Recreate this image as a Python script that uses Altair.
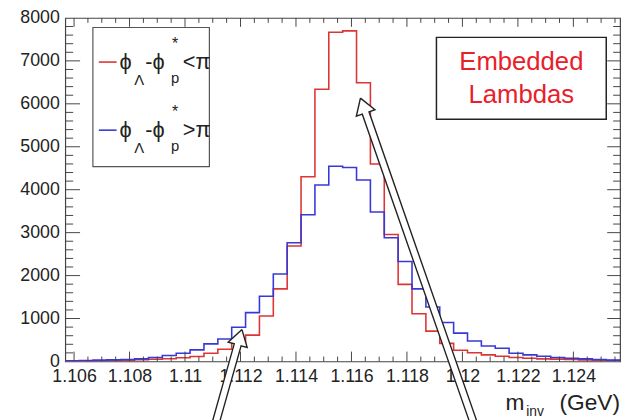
import altair as alt
import numpy as np
import pandas as pd

# ---------------- data ----------------
x_lo, x_hi = 1.105683, 1.125683          # axis range (GeV)
bin_width = 0.0005
# counts per bin (40 bins), phi_L - phi_p* < pi  (red)
red_counts = [10, 12, 18, 23, 31, 40, 50, 62, 88, 115,
              192, 284, 423, 613, 1060, 1690, 2688, 4302, 6339, 7667,
              7699, 6492, 4600, 2958, 1795, 1113, 706, 422, 260, 204,
              153, 123, 92, 77, 61, 54, 46, 38, 31, 23]
# phi_L - phi_p* > pi  (blue)
blue_counts = [15, 23, 31, 38, 46, 61, 92, 138, 192, 270,
               410, 525, 795, 1137, 1517, 2035, 2766, 3418, 4110, 4548,
               4518, 4225, 3480, 2881, 2330, 1690, 1268, 906, 660, 476,
               360, 307, 192, 154, 123, 92, 77, 61, 46, 31]
x_major = [1.106, 1.108, 1.110, 1.112, 1.114, 1.116, 1.118, 1.120, 1.122, 1.124]
y_major = [0, 1000, 2000, 3000, 4000, 5000, 6000, 7000, 8000]
y_max = 8000
# annotation arrows: (tip x, tip y, tail x, tail y) in data units
arrows = [(1.116324, 6133, 1.120400, -1420),
          (1.112053, 742, 1.111110, -1420)]

# ---------------- layout ----------------
W, H = 562, 348
RED, BLUE = "#dd3535", "#3838d8"
FONT = "Liberation Sans"

edges = x_lo + bin_width * np.arange(len(red_counts) + 1)
hist = pd.concat([
    pd.DataFrame({"x": edges, "v": red_counts + [red_counts[-1]], "s": "red"}),
    pd.DataFrame({"x": edges, "v": blue_counts + [blue_counts[-1]], "s": "blue"}),
])

xs = alt.Scale(domain=[x_lo, x_hi], nice=False, zero=False)
ys = alt.Scale(domain=[0, y_max], nice=False)

x_axis = alt.Axis(values=x_major, format=".4~f", ticks=False, domain=False, grid=False,
                  title=None, labelFontSize=18, labelFont=FONT, labelColor="#222",
                  labelPadding=6, labelFlush=False, labelOverlap=False, labelBound=False)
y_axis = alt.Axis(values=y_major, format="d", ticks=False, domain=False, grid=False,
                  title=None, labelFontSize=18, labelFont=FONT, labelColor="#222",
                  labelPadding=6, labelFlush=False, labelOverlap=False, labelBound=False)

base = alt.Chart(hist)
lines = []
for s, col in [("red", RED), ("blue", BLUE)]:
    lines.append(base.transform_filter(alt.datum.s == s).mark_line(
        interpolate="step-after", color=col, strokeWidth=1.6, clip=True).encode(
        x=alt.X("x:Q", scale=xs, axis=x_axis),
        y=alt.Y("v:Q", scale=ys, axis=y_axis)))

# tick marks (inside the frame, on all four sides)
x_minor = [round(1.106 + bin_width * k, 4) for k in range(40)
           if round(1.106 + bin_width * k, 4) not in [round(v, 4) for v in x_major]
           and 1.106 + bin_width * k < x_hi]
y_minor = [v for v in range(0, y_max + 1, 200) if v % 1000 != 0]
tk = "#444"
def xt(vals, y0, y1):
    return alt.Chart(pd.DataFrame({"x": vals})).mark_rule(color=tk, strokeWidth=1).encode(
        x=alt.X("x:Q", scale=xs), y=alt.value(y0), y2=alt.value(y1))
def yt(vals, x0, x1):
    return alt.Chart(pd.DataFrame({"y": vals})).mark_rule(color=tk, strokeWidth=1).encode(
        y=alt.Y("y:Q", scale=ys), x=alt.value(x0), x2=alt.value(x1))
ticks = [xt(x_major, H, H - 10), xt(x_minor, H, H - 5),
         xt(x_major, 0, 9), xt(x_minor, 0, 5),
         yt(y_major[1:-1], 0, 15), yt(y_minor, 0, 8),
         yt(y_major[1:-1], W, W - 13), yt(y_minor, W, W - 7)]

# arrows (hollow, white-filled)
def px(x):
    return (x - x_lo) / (x_hi - x_lo) * W
def py(y):
    return H - y / y_max * H
def to_data(p, q):
    return x_lo + p / W * (x_hi - x_lo), (H - q) / H * y_max
arrow_layers = []
for i, (tx, ty, sx, sy) in enumerate(arrows):
    tp, tq, sp, sq = px(tx), py(ty), px(sx), py(sy)
    d = np.array([tp - sp, tq - sq]); L = np.hypot(*d); u = d / L; n = np.array([-u[1], u[0]])
    hl, hw, sw = 16, 10, 3.6
    tip = np.array([tp, tq]); tail = np.array([sp, sq]); hb = tip - u * hl
    pts = [tip, hb + n * hw, hb + n * sw, tail + n * sw, tail - n * sw, hb - n * sw, hb - n * hw, tip]
    rows = [dict(zip(("x", "y"), to_data(*p)), o=k) for k, p in enumerate(pts)]
    arrow_layers.append(alt.Chart(pd.DataFrame(rows)).mark_line(
        filled=True, fill="white", stroke="#222", strokeWidth=1.4, clip=False).encode(
        x=alt.X("x:Q", scale=xs), y=alt.Y("y:Q", scale=ys), order="o:Q"))

# legend box
ox, oy = 66, 15.3   # plot origin on page
def v(a):
    return alt.value(a)
legend_box = alt.Chart(pd.DataFrame({"a": [0]})).mark_rect(
    fill="white", stroke="#555", strokeWidth=1.2).encode(
    x=v(94 - ox), x2=v(212 - ox), y=v(25 - oy), y2=v(166 - oy))
legend_items = []
for dy, col, rel in [(0, RED, "<π"), (69, BLUE, ">π")]:
    legend_items.append(alt.Chart(pd.DataFrame({"a": [0]})).mark_rule(
        color=col, strokeWidth=1.6).encode(x=v(100 - ox), x2=v(118 - ox), y=v(60 + dy - oy)))
    pieces = [("ϕ", 121, 67, 22), ("Λ", 136, 83, 15), ("-ϕ", 147, 67, 22),
              ("p", 173, 81, 15), ("*", 174, 47, 16), (rel, 185, 67, 22)]
    for txt, x0, y0, fs in pieces:
        legend_items.append(alt.Chart(pd.DataFrame({"t": [txt]})).mark_text(
            align="left", baseline="alphabetic", font=FONT, fontSize=fs, color="#222").encode(
            text="t:N", x=v(x0 - ox), y=v(y0 + dy - oy)))

# "Embedded Lambdas" box
emb_box = alt.Chart(pd.DataFrame({"a": [0]})).mark_rect(
    fill="white", stroke="#222", strokeWidth=1.5).encode(
    x=v(442 - ox), x2=v(614 - ox), y=v(35 - oy), y2=v(118 - oy))
emb_text = [alt.Chart(pd.DataFrame({"t": [t]})).mark_text(
    align="center", baseline="alphabetic", font=FONT, fontSize=26, color="#e8202a").encode(
    text="t:N", x=v(528 - ox), y=v(yb - oy)) for t, yb in [("Embedded", 68), ("Lambdas", 101)]]

# axis title  m_inv (GeV)
title_parts = [("m", 512, 412, 23, "left"), ("inv", 533, 419, 14, "left"), ("(GeV)", 628, 412, 23, "right")]
title_text = [alt.Chart(pd.DataFrame({"t": [t]})).mark_text(
    align=al, baseline="alphabetic", font=FONT, fontSize=fs, color="#222").encode(
    text="t:N", x=v(x0 - ox), y=v(y0 - oy)) for t, x0, y0, fs, al in title_parts]

chart = alt.layer(*lines, *ticks, legend_box, *legend_items, emb_box, *emb_text,
                  *arrow_layers, *title_text).properties(
    width=W, height=H,
    autosize=alt.AutoSizeParams(type="none"),
    padding={"left": 58, "top": 7.3, "right": 5, "bottom": 70},
    background="white",
).configure_view(stroke="#444", strokeWidth=1.2)

chart.save("out.html", embed_options={"renderer": "svg", "actions": False})
